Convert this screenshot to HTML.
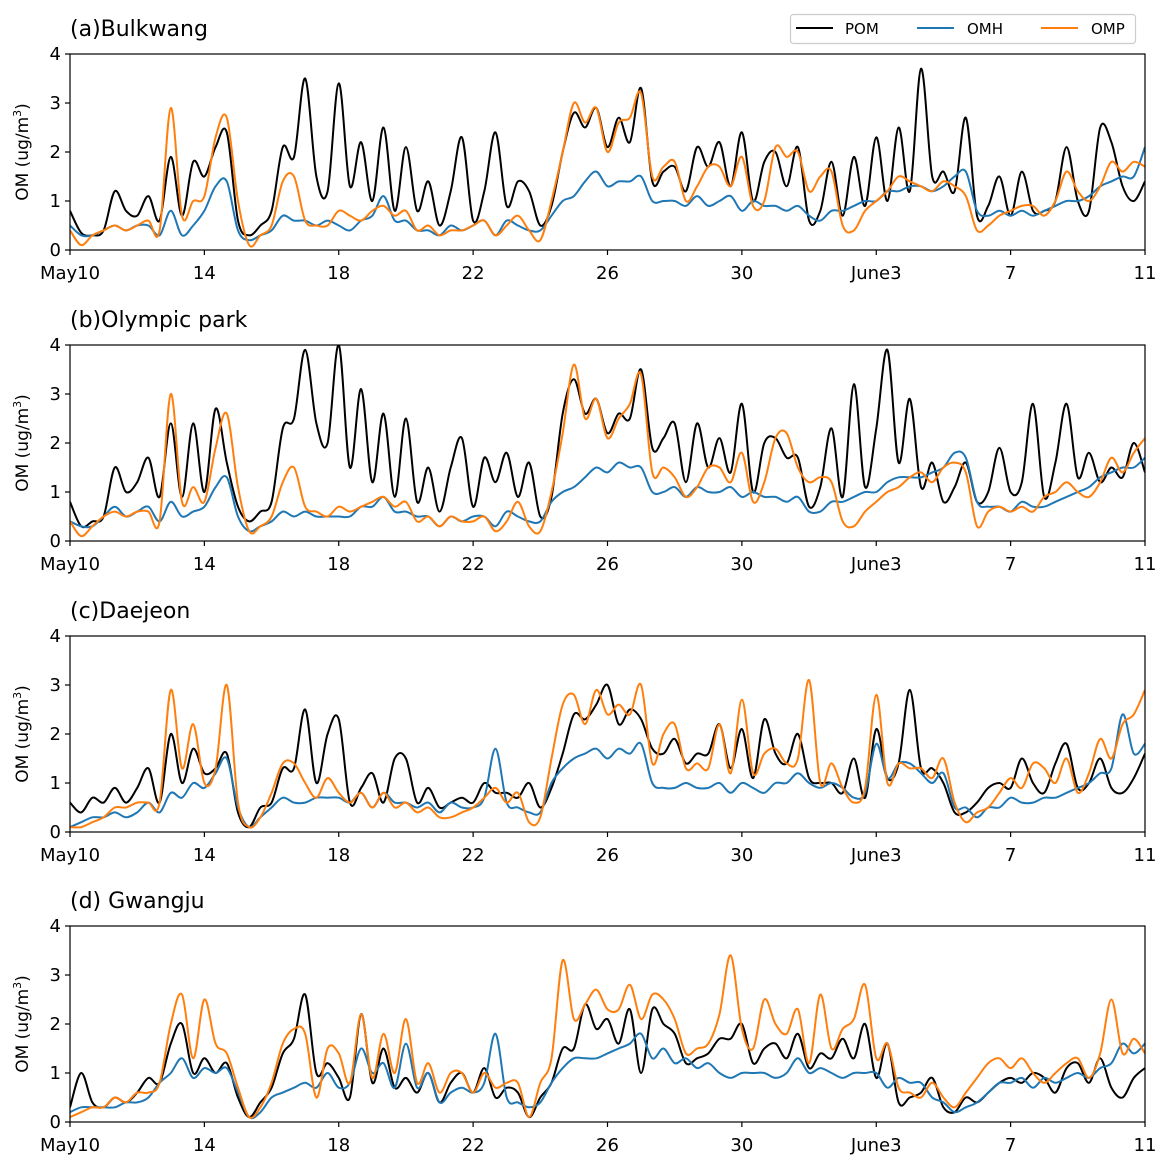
<!DOCTYPE html>
<html><head><meta charset="utf-8">
<style>
body{margin:0;background:#fff;}
svg{display:block;font-family:"DejaVu Sans","Liberation Sans",sans-serif;}
</style></head>
<body>
<svg id="chart" width="1170" height="1169" viewBox="0 0 1170 1169" xmlns="http://www.w3.org/2000/svg">
<g id="legend">
<rect x="790.5" y="14.5" width="345" height="29" rx="3" fill="#fff" stroke="#ccc" stroke-width="1.2"/>
<g><line x1="796" y1="28" x2="833" y2="28" stroke="#000" stroke-width="2"/><text x="845" y="34" font-size="15">POM</text></g>
<g><line x1="917" y1="28" x2="954" y2="28" stroke="#1f77b4" stroke-width="2"/><text x="967" y="34" font-size="15">OMH</text></g>
<g><line x1="1041" y1="28" x2="1078" y2="28" stroke="#ff7f0e" stroke-width="2"/><text x="1091" y="34" font-size="15">OMP</text></g>
</g>
</svg>
<script>
const xTickLabels = ["May10","14","18","22","26","30","June3","7","11"];
const yTickLabels = ["0","1","2","3","4"];
const panelTitles = ["(a)Bulkwang","(b)Olympic park","(c)Daejeon","(d) Gwangju"];
const seriesNames = ["POM","OMH","OMP"];

const pomA = [0.8,0.35,0.3, 0.4,1.2,0.8, 0.7,1.1,0.6, 1.9,0.7,1.8, 1.5,2.1,2.4, 0.6,0.3,0.5, 0.8,2.1,1.9, 3.5,1.5,1.2, 3.4,1.3,2.2, 1.0,2.5,0.8, 2.1,0.8,1.4, 0.5,1.2,2.3, 0.6,1.2,2.4, 0.9,1.4,1.2, 0.5,0.9,2.0, 2.8,2.5,2.9, 2.1,2.7,2.2, 3.3,1.4,1.6, 1.7,1.2,2.1, 1.7,2.2,1.3, 2.4,1.0,1.8, 2.0,1.3,2.1, 0.6,0.8,1.8, 0.7,1.9,0.9, 2.3,1.0,2.5, 1.2,3.7,1.5, 1.6,1.2,2.7, 0.7,0.9,1.5, 0.7,1.6,0.8, 0.8,1.0,2.1, 1.0,0.8,2.5, 2.2,1.3,1.0, 1.4];
const omhA = [0.5,0.3,0.3, 0.4,0.5,0.4, 0.5,0.5,0.3, 0.8,0.3,0.5, 0.8,1.3,1.4, 0.4,0.2,0.3, 0.4,0.7,0.6, 0.6,0.5,0.6, 0.5,0.4,0.6, 0.7,1.1,0.6, 0.6,0.4,0.4, 0.3,0.5,0.4, 0.5,0.6,0.3, 0.6,0.5,0.4, 0.4,0.7,1.0, 1.1,1.4,1.6, 1.3,1.4,1.4, 1.5,1.0,1.0, 1.0,0.9,1.1, 0.9,1.0,1.1, 0.8,1.0,0.9, 0.9,0.8,0.9, 0.7,0.6,0.8, 0.8,0.9,1.0, 1.0,1.2,1.2, 1.3,1.3,1.2, 1.3,1.5,1.6, 0.8,0.7,0.8, 0.7,0.8,0.7, 0.8,0.9,1.0, 1.0,1.1,1.3, 1.4,1.5,1.5, 2.1];
const ompA = [0.4,0.1,0.3, 0.4,0.5,0.4, 0.5,0.6,0.4, 2.9,0.7,1.0, 1.1,2.3,2.7, 1.0,0.1,0.3, 0.5,1.4,1.5, 0.6,0.5,0.5, 0.8,0.7,0.6, 0.8,0.9,0.7, 0.8,0.4,0.5, 0.3,0.4,0.4, 0.5,0.6,0.3, 0.5,0.7,0.4, 0.2,1.0,2.0, 3.0,2.6,2.9, 2.0,2.6,2.7, 3.2,1.5,1.7, 1.8,1.0,1.3, 1.7,1.7,1.3, 1.9,0.9,1.0, 2.1,1.9,2.0, 1.2,1.5,1.6, 0.5,0.4,0.8, 1.0,1.2,1.5, 1.4,1.3,1.2, 1.4,1.3,1.1, 0.4,0.5,0.7, 0.8,0.9,0.9, 0.7,1.0,1.6, 1.2,1.0,1.3, 1.8,1.6,1.8, 1.7];

const pomB = [0.8,0.3,0.4, 0.5,1.5,1.0, 1.2,1.7,0.9, 2.4,0.9,2.4, 1.0,2.7,1.6, 0.7,0.4,0.6, 0.8,2.3,2.5, 3.9,2.4,2.0, 4.0,1.5,3.1, 1.2,2.6,0.9, 2.5,0.8,1.5, 0.6,1.5,2.1, 0.7,1.7,1.2, 1.8,0.9,1.6, 0.5,0.9,2.6, 3.3,2.6,2.9, 2.2,2.6,2.5, 3.5,1.9,2.1, 2.4,1.2,2.4, 1.5,2.1,1.4, 2.8,1.0,2.0, 2.1,1.7,1.7, 0.7,1.1,2.3, 0.9,3.2,1.1, 2.3,3.9,1.6, 2.9,1.1,1.6, 0.8,1.1,1.6, 0.8,1.0,1.9, 1.0,1.2,2.8, 0.9,1.6,2.8, 1.3,1.8,1.2, 1.5,1.3,2.0, 1.4];
const omhB = [0.4,0.3,0.3, 0.5,0.7,0.5, 0.6,0.7,0.4, 0.8,0.5,0.6, 0.7,1.1,1.3, 0.5,0.2,0.3, 0.4,0.6,0.5, 0.6,0.5,0.5, 0.5,0.5,0.7, 0.7,0.9,0.6, 0.6,0.5,0.5, 0.3,0.5,0.4, 0.5,0.5,0.3, 0.6,0.5,0.4, 0.4,0.8,1.0, 1.1,1.3,1.5, 1.4,1.6,1.5, 1.5,1.0,1.0, 1.1,0.9,1.1, 1.0,1.0,1.1, 0.9,1.0,0.9, 0.9,0.8,0.9, 0.6,0.6,0.8, 0.8,0.9,1.0, 1.0,1.2,1.3, 1.3,1.3,1.4, 1.5,1.8,1.7, 0.8,0.7,0.7, 0.6,0.8,0.7, 0.7,0.8,0.9, 1.0,1.1,1.3, 1.4,1.5,1.5, 1.7];
const ompB = [0.4,0.1,0.3, 0.5,0.6,0.5, 0.6,0.6,0.4, 3.0,0.8,1.1, 0.8,1.9,2.6, 1.1,0.2,0.3, 0.5,1.2,1.5, 0.7,0.6,0.5, 0.7,0.6,0.7, 0.8,0.9,0.7, 0.8,0.4,0.5, 0.3,0.5,0.4, 0.4,0.5,0.2, 0.4,0.8,0.3, 0.2,1.0,2.2, 3.6,2.5,2.9, 2.1,2.5,2.8, 3.4,1.4,1.5, 1.3,0.9,1.1, 1.5,1.5,1.2, 1.8,0.8,1.2, 2.1,2.2,1.5, 1.2,1.3,1.2, 0.4,0.3,0.6, 0.8,1.0,1.1, 1.3,1.4,1.2, 1.5,1.6,1.4, 0.3,0.6,0.7, 0.6,0.7,0.6, 0.9,1.0,1.2, 1.0,0.9,1.2, 1.7,1.4,1.8, 2.1];

const pomC = [0.6,0.4,0.7, 0.6,0.9,0.6, 0.9,1.3,0.6, 2.0,1.0,1.7, 1.2,1.3,1.6, 0.4,0.1,0.5, 0.6,1.3,1.3, 2.5,1.0,2.0, 2.3,0.6,0.9, 1.2,0.6,1.5, 1.5,0.6,0.9, 0.5,0.6,0.7, 0.6,1.0,0.8, 0.8,0.7,1.0, 0.5,0.9,1.6, 2.4,2.3,2.6, 3.0,2.2,2.5, 2.3,1.7,1.6, 1.9,1.4,1.6, 1.6,2.2,1.3, 2.1,1.1,2.3, 1.6,1.4,2.0, 1.1,1.0,1.0, 0.8,1.5,0.7, 2.1,1.1,1.4, 2.9,1.3,1.3, 1.0,0.4,0.4, 0.6,0.9,1.0, 0.9,1.5,1.0, 0.8,1.4,1.8, 0.9,1.0,1.5, 0.9,0.8,1.1, 1.6];
const omhC = [0.1,0.2,0.3, 0.3,0.4,0.3, 0.4,0.6,0.4, 0.8,0.7,1.0, 0.9,1.2,1.5, 0.5,0.1,0.3, 0.5,0.7,0.6, 0.6,0.7,0.7, 0.7,0.6,0.8, 0.5,0.8,0.6, 0.6,0.5,0.6, 0.4,0.6,0.5, 0.5,0.7,1.7, 0.6,0.5,0.4, 0.4,1.0,1.3, 1.5,1.6,1.7, 1.5,1.7,1.6, 1.8,1.0,0.9, 0.9,1.0,0.9, 0.9,1.0,0.8, 1.0,0.9,0.8, 1.0,1.0,1.2, 1.0,0.9,1.0, 0.9,0.7,0.8, 1.8,1.1,1.4, 1.4,1.2,1.0, 1.2,0.5,0.5, 0.3,0.5,0.5, 0.7,0.6,0.6, 0.7,0.7,0.8, 0.9,1.0,1.2, 1.3,2.4,1.6, 1.8];
const ompC = [0.1,0.1,0.2, 0.3,0.5,0.5, 0.6,0.6,0.6, 2.9,1.3,2.2, 1.0,1.3,3.0, 0.6,0.1,0.3, 0.8,1.4,1.4, 1.0,0.7,1.1, 0.8,0.6,0.8, 0.5,0.8,0.5, 0.6,0.4,0.5, 0.3,0.3,0.4, 0.5,0.7,0.9, 0.6,0.8,0.2, 0.3,1.5,2.6, 2.8,2.2,2.9, 2.4,2.6,2.4, 3.0,1.4,2.0, 2.2,1.3,1.4, 1.3,2.2,1.2, 2.7,1.2,1.6, 1.7,1.4,1.5, 3.1,1.0,1.4, 0.9,0.6,0.9, 2.8,1.0,1.4, 1.3,1.3,1.1, 1.5,0.6,0.2, 0.4,0.5,0.8, 1.1,0.9,1.4, 1.3,1.0,1.5, 0.8,1.2,1.9, 1.5,2.2,2.4, 2.9];

const pomD = [0.3,1.0,0.4, 0.3,0.5,0.4, 0.6,0.9,0.8, 1.6,2.0,1.0, 1.3,1.0,1.2, 0.5,0.1,0.4, 0.7,1.4,1.7, 2.6,1.0,1.2, 0.9,0.5,2.2, 0.8,1.5,0.7, 0.9,0.6,1.0, 0.4,0.8,1.0, 0.6,1.1,0.5, 0.7,0.6,0.1, 0.5,0.8,1.5, 1.5,2.4,1.9, 2.1,1.6,2.3, 1.0,2.3,2.0, 1.8,1.2,1.3, 1.4,1.7,1.7, 2.0,1.2,1.5, 1.6,1.3,1.8, 1.1,1.4,1.3, 1.7,1.3,2.0, 0.9,1.6,0.4, 0.5,0.6,0.9, 0.3,0.2,0.5, 0.4,0.6,0.8, 0.9,0.8,1.0, 0.9,0.6,1.1, 1.2,0.8,1.3, 0.7,0.5,0.9, 1.1];
const omhD = [0.2,0.3,0.3, 0.3,0.3,0.4, 0.4,0.5,0.8, 1.0,1.3,0.9, 1.1,1.0,1.1, 0.6,0.1,0.2, 0.5,0.6,0.7, 0.8,0.7,1.0, 0.7,0.8,1.5, 1.0,1.2,0.7, 1.6,0.7,1.0, 0.4,0.6,0.7, 0.6,0.8,1.8, 0.5,0.4,0.3, 0.4,0.8,1.1, 1.3,1.3,1.3, 1.4,1.5,1.6, 1.8,1.3,1.5, 1.2,1.3,1.1, 1.2,1.0,0.9, 1.0,1.0,1.0, 0.9,1.0,1.3, 1.0,1.1,1.0, 0.9,1.0,1.0, 1.0,0.7,0.9, 0.8,0.8,0.5, 0.4,0.2,0.3, 0.4,0.6,0.8, 0.8,0.9,0.7, 0.9,0.8,0.9, 1.0,0.9,1.1, 1.2,1.6,1.4, 1.6];
const ompD = [0.1,0.2,0.3, 0.3,0.5,0.4, 0.6,0.6,0.8, 2.0,2.6,1.3, 2.5,1.6,1.4, 0.7,0.1,0.3, 0.8,1.6,1.9, 1.8,0.5,1.5, 1.4,0.8,2.2, 0.9,1.8,1.0, 2.1,0.8,1.2, 0.6,1.0,1.0, 0.6,1.0,0.7, 0.8,0.8,0.1, 0.8,1.3,3.3, 2.1,2.4,2.7, 2.3,2.3,2.8, 2.1,2.6,2.5, 2.1,1.4,1.5, 1.6,2.2,3.4, 1.9,1.5,2.5, 2.0,1.8,2.3, 1.2,2.6,1.5, 1.9,2.1,2.8, 1.3,1.6,0.7, 0.6,0.5,0.8, 0.5,0.3,0.6, 0.9,1.2,1.3, 1.1,1.3,1.0, 0.8,1.0,1.2, 1.3,0.9,1.4, 2.5,1.4,1.7, 1.4];

const NS = "http://www.w3.org/2000/svg";
const svg = document.getElementById('chart');
const legend = document.getElementById('legend');
const X0 = 70, X1 = 1145, DAYS = 32, YMAX = 4, PH = 196;
const panelTops = [54, 345, 636, 926];
const colors = ["#000000", "#1f77b4", "#ff7f0e"];
const panels = [[pomA, omhA, ompA], [pomB, omhB, ompB], [pomC, omhC, ompC], [pomD, omhD, ompD]];
const PPD = 3;
function xScale(d){ return X0 + (X1 - X0) * d / DAYS; }
function mk(tag, attrs){ const e = document.createElementNS(NS, tag); for (const k in attrs) e.setAttribute(k, attrs[k]); return e; }

panels.forEach((series, p) => {
  const top = panelTops[p], bot = top + PH;
  const yScale = v => bot - PH * v / YMAX;
  const g = mk('g', {});
  
  
  svg.insertBefore(g, legend);
  const clipId = 'clip' + p;
  const cp = mk('clipPath', {id: clipId});
  cp.appendChild(mk('rect', {x: X0, y: top, width: X1 - X0, height: PH}));
  g.appendChild(cp);
  const lg = mk('g', {'clip-path': 'url(#' + clipId + ')'});
  g.appendChild(lg);
  series.forEach((vals, s) => {
    const pts = vals.map((v, i) => [xScale(i / PPD), yScale(v)]);
    let d = 'M' + pts[0][0].toFixed(1) + ',' + pts[0][1].toFixed(1);
    for (let i = 0; i < pts.length - 1; i++) {
      const p0 = pts[Math.max(0, i - 1)], p1 = pts[i], p2 = pts[i + 1], p3 = pts[Math.min(pts.length - 1, i + 2)];
      const c1x = p1[0] + (p2[0] - p0[0]) / 6, c1y = p1[1] + (p2[1] - p0[1]) / 6;
      const c2x = p2[0] - (p3[0] - p1[0]) / 6, c2y = p2[1] - (p3[1] - p1[1]) / 6;
      d += ' C' + c1x.toFixed(1) + ',' + c1y.toFixed(1) + ' ' + c2x.toFixed(1) + ',' + c2y.toFixed(1) + ' ' + p2[0].toFixed(1) + ',' + p2[1].toFixed(1);
    }
    const path = mk('path', {d: d, fill: 'none', stroke: colors[s], 'stroke-width': 2, 'stroke-linejoin': 'round'});
    
    
    lg.appendChild(path);
  });
  const frame = mk('rect', {x: X0, y: top, width: X1 - X0, height: PH, fill: 'none', stroke: '#000', 'stroke-width': 1.2});
  
  
  g.appendChild(frame);
  xTickLabels.forEach((lab, i) => {
    const x = xScale(i * 4);
    g.appendChild(mk('line', {x1: x, y1: bot, x2: x, y2: bot + 5, stroke: '#000', 'stroke-width': 1.2}));
    const t = mk('text', {x: x, y: bot + 29, 'font-size': 18, 'text-anchor': 'middle'});
    t.textContent = lab;
    
    
    g.appendChild(t);
  });
  yTickLabels.forEach((lab, i) => {
    const y = yScale(i);
    g.appendChild(mk('line', {x1: X0 - 5, y1: y, x2: X0, y2: y, stroke: '#000', 'stroke-width': 1.2}));
    const t = mk('text', {x: X0 - 9, y: y + 6, 'font-size': 18, 'text-anchor': 'end'});
    t.textContent = lab;
    
    
    g.appendChild(t);
  });
  const yl = mk('text', {x: 0, y: 0, 'font-size': 17, 'text-anchor': 'middle', transform: 'translate(28,' + (top + PH / 2) + ') rotate(-90)'});
  yl.innerHTML = 'OM (ug/m<tspan font-size="11" dy="-7">3</tspan><tspan dy="7">)</tspan>';
  
  
  g.appendChild(yl);
  const ti = mk('text', {x: 70, y: top - 18, 'font-size': 22});
  ti.textContent = panelTitles[p];
  
  
  g.appendChild(ti);
});
</script>
</body></html>
